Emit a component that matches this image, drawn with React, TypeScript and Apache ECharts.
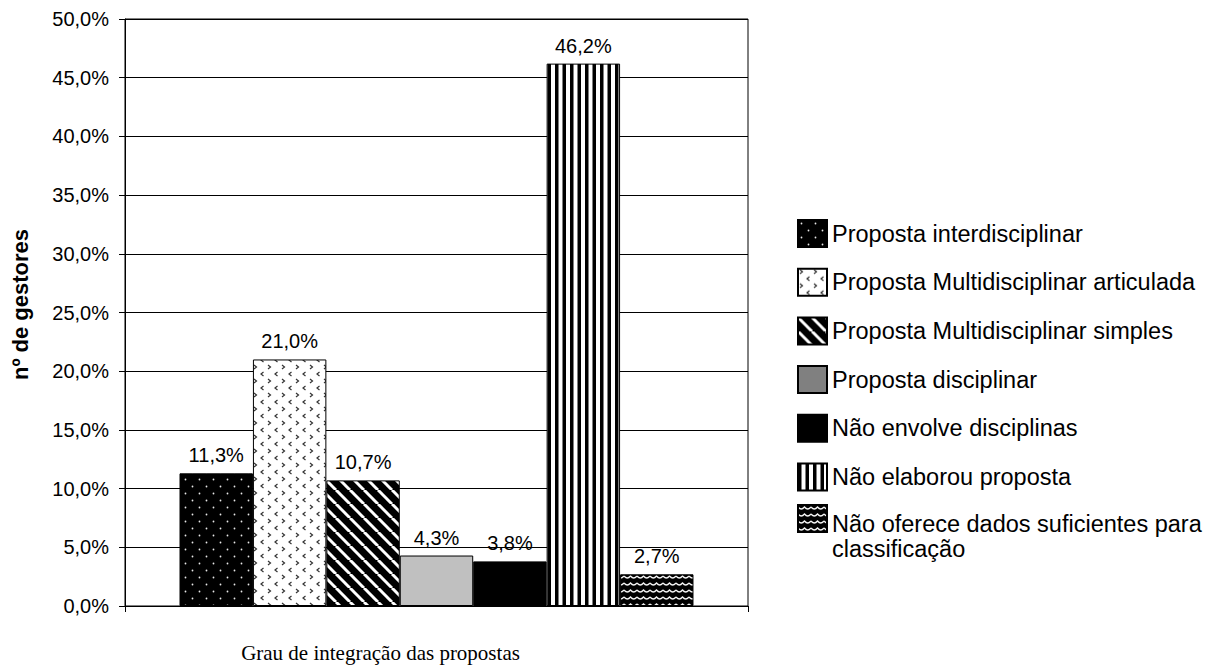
import React, { useEffect, useRef } from "react";
import * as echarts from "echarts";

const seriesNames = [
  "Proposta interdisciplinar",
  "Proposta Multidisciplinar articulada",
  "Proposta Multidisciplinar simples",
  "Proposta disciplinar",
  "Não envolve disciplinas",
  "Não elaborou proposta",
  "Não oferece dados suficientes para classificação",
];
const seriesValues = [11.3, 21.0, 10.7, 4.3, 3.8, 46.2, 2.7];
const categories = [""];
const yTicks = { min: 0, max: 50, interval: 5 };
const xTitle = "Grau de integração das propostas";
const yTitle = "nº de gestores";
const lastLegendLines = ["Não oferece dados suficientes para", "classificação"];

const SANS = "Liberation Sans, Arial, sans-serif";
const SERIF = "Liberation Serif, Times New Roman, serif";

const fmt = (v: number) => v.toFixed(1).replace(".", ",") + "%";

function pattern(w: number, h: number, draw: (ctx: CanvasRenderingContext2D) => void) {
  const c = document.createElement("canvas");
  c.width = w;
  c.height = h;
  const ctx = c.getContext("2d") as CanvasRenderingContext2D;
  draw(ctx);
  return { image: c, repeat: "repeat" } as any;
}

function buildFills() {
  const p1 = pattern(14, 14, (ctx) => {
    ctx.fillStyle = "#000";
    ctx.fillRect(0, 0, 14, 14);
    ctx.fillStyle = "#e8e8e8";
    ctx.beginPath();
    ctx.arc(3.5, 3.5, 0.9, 0, Math.PI * 2);
    ctx.fill();
    ctx.beginPath();
    ctx.arc(10.5, 10.5, 0.9, 0, Math.PI * 2);
    ctx.fill();
  });
  const p2 = pattern(14, 14, (ctx) => {
    ctx.fillStyle = "#fff";
    ctx.fillRect(0, 0, 14, 14);
    ctx.strokeStyle = "#333";
    ctx.lineWidth = 1.2;
    ctx.beginPath();
    ctx.moveTo(2, 1);
    ctx.lineTo(4.5, 3);
    ctx.lineTo(2, 5);
    ctx.stroke();
    ctx.beginPath();
    ctx.moveTo(11.5, 8);
    ctx.lineTo(9, 10);
    ctx.lineTo(11.5, 12);
    ctx.stroke();
  });
  const p3 = pattern(14, 14, (ctx) => {
    ctx.fillStyle = "#000";
    ctx.fillRect(0, 0, 14, 14);
    ctx.strokeStyle = "#fff";
    ctx.lineWidth = 3;
    for (const k of [-14, 0, 14]) {
      ctx.beginPath();
      ctx.moveTo(k, 0);
      ctx.lineTo(k + 14, 14);
      ctx.stroke();
    }
  });
  const p6 = pattern(15, 8, (ctx) => {
    ctx.fillStyle = "#fff";
    ctx.fillRect(0, 0, 15, 8);
    ctx.fillStyle = "#000";
    ctx.fillRect(0, 0, 3.5, 8);
    ctx.fillRect(7.5, 0, 3.5, 8);
  });
  const p7 = pattern(13, 7, (ctx) => {
    ctx.fillStyle = "#000";
    ctx.fillRect(0, 0, 13, 7);
    ctx.strokeStyle = "#f4f4f4";
    ctx.lineWidth = 1.3;
    ctx.beginPath();
    ctx.moveTo(0, 2);
    ctx.quadraticCurveTo(3.25, 6, 6.5, 2);
    ctx.quadraticCurveTo(9.75, 6, 13, 2);
    ctx.stroke();
  });
  return [p1, p2, p3, "#c0c0c0", "#000000", p6, p7];
}

export default function App() {
  const ref = useRef<HTMLDivElement>(null);
  useEffect(() => {
    if (!ref.current) return;
    const chart = echarts.init(ref.current, null, { renderer: "svg" });
    const fills = buildFills();
    const legendText = { fontSize: 23.5, fontFamily: SANS, color: "#000" };
    const legendCommon = {
      orient: "vertical",
      left: 797,
      padding: 0,
      icon: "rect",
      itemWidth: 29,
      itemHeight: 27,
      itemGap: 19.7,
    };
    chart.setOption({
      animation: false,
      backgroundColor: "#fff",
      grid: {
        left: 125,
        right: 459,
        top: 19,
        bottom: 59,
        show: true,
        borderColor: "#000",
        borderWidth: 1,
      },
      legend: [
        {
          ...legendCommon,
          top: 219,
          textStyle: legendText,
          data: seriesNames.slice(0, 6).map((n, i) => {
            const d: any = { name: n };
            if (i === 3) d.itemStyle = { color: "#808080" };
            return d;
          }),
        },
        {
          ...legendCommon,
          top: 481.5,
          textStyle: {
            ...legendText,
            rich: {
              s: { ...legendText, lineHeight: 35 },
              a: { ...legendText, lineHeight: 25 },
            },
          },
          formatter: () => "{s| }\n{a|" + lastLegendLines[0] + "}\n{a|" + lastLegendLines[1] + "}",
          data: [seriesNames[6]],
        },
      ],
      xAxis: {
        type: "category",
        data: categories,
        name: xTitle,
        nameLocation: "middle",
        nameGap: 36,
        nameTextStyle: { fontFamily: SERIF, fontSize: 21, color: "#000", padding: [0, 112, 0, 0] },
        axisLine: { lineStyle: { color: "#000", width: 1 } },
        axisTick: { show: true, length: 6, lineStyle: { color: "#000" } },
        axisLabel: { show: false },
      },
      yAxis: {
        type: "value",
        min: yTicks.min,
        max: yTicks.max,
        interval: yTicks.interval,
        name: yTitle,
        nameLocation: "middle",
        nameGap: 94,
        nameTextStyle: {
          fontFamily: SANS,
          fontSize: 22,
          fontWeight: "bold",
          color: "#000",
          padding: [0, 0, 0, 16],
        },
        axisLine: { show: true, lineStyle: { color: "#000", width: 1 } },
        axisTick: { show: true, length: 6, lineStyle: { color: "#000" } },
        axisLabel: {
          fontFamily: SANS,
          fontSize: 20,
          color: "#000",
          margin: 16,
          formatter: (v: number) => fmt(v),
        },
        splitLine: { show: true, lineStyle: { color: "#000", width: 1 } },
      },
      series: seriesNames.map((n, i) => ({
        type: "bar",
        name: n,
        data: [seriesValues[i]],
        barGap: "0%",
        barCategoryGap: "17.5%",
        itemStyle: { color: fills[i], borderColor: "#000", borderWidth: 1 },
        label: {
          show: true,
          position: "top",
          distance: 8,
          fontFamily: SANS,
          fontSize: 20,
          color: "#000",
          formatter: (p: any) => fmt(p.value),
        },
      })),
    });
    return () => chart.dispose();
  }, []);
  return (
    <div
      ref={ref}
      style={{ position: "absolute", left: 0, top: 0, width: 1207, height: 668 }}
    />
  );
}
